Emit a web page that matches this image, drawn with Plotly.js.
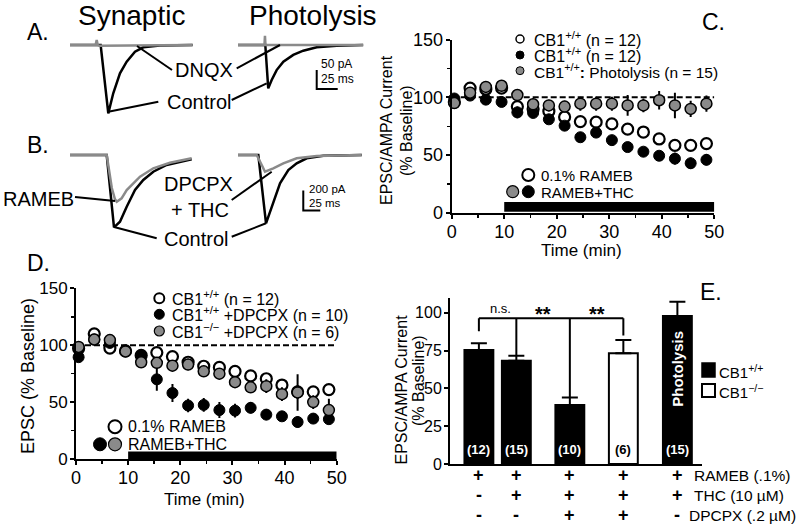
<!DOCTYPE html>
<html><head><meta charset="utf-8">
<script src="https://cdn.plot.ly/plotly-3.0.1.min.js"></script>
<style>html,body{margin:0;padding:0;background:#fff}#chart{width:800px;height:531px}</style>
</head><body><div id="chart"></div>
<script>
// ---------------- DATA ----------------
// Panel A traces (time ms, current pA)
const aSynTimeCtrl = [0, 31, 36.5, 45.6, 51.5, 59.5, 67.5, 77.4, 87.3, 107, 146];
const aSynCurrCtrl = [0, 0, 0, -180, -127, -74.5, -44, -17.6, -6, -1.3, 0];
const aSynTimeDnqx = [0, 30.5, 31.8, 33, 35, 146];
const aSynCurrDnqx = [0, 0, 13, 0, -2, 0];
const aPhoTimeCtrl = [0, 32.5, 36, 40.1, 46, 54, 65.8, 77.7, 93.7, 117.5, 149];
const aPhoCurrCtrl = [0, 0, -114, -92, -66, -44, -26, -15, -6, -2, 0];
const aPhoTimeDnqx = [0, 31.5, 32.1, 32.7, 149];
const aPhoCurrDnqx = [0, 0, 24, 0, 0];
// Panel B traces
const bSynTimeCtrl = [0, 54, 64.7, 73.5, 83.4, 95.6, 107.8, 122.5, 142, 179];
const bSynCurrCtrl = [0, 0, -723, -667, -517, -350, -250, -167, -100, -43];
const bSynTimeRameb = [0, 54, 61.5, 66, 68.7, 75.9, 83.4, 103, 122.5, 147, 179];
const bSynCurrRameb = [0, 0, -330, -440, -467, -433, -350, -217, -133, -77, -33];
const bPhoTimeCtrl = [0, 29.9, 41.2, 49.6, 61.8, 74, 86.3, 101, 125.4, 182];
const bPhoCurrCtrl = [0, 0, -683, -517, -283, -150, -83, -33, -7, 0];
const bPhoTimeThc = [0, 27.5, 34.9, 39.7, 51.9, 66.6, 86.3, 115.7, 182];
const bPhoCurrThc = [0, 0, -100, -167, -133, -83, -33, -10, 0];

// Panel C (time min, % baseline)
const timeC = [0.5, 3.5, 6.5, 9.5, 12.5, 15.5, 18.5, 21.5, 24.5, 27.5, 30.5, 33.5, 36.5, 39.5, 42.5, 45.5, 48.5];
const openC  = [96, 108, 107, 108, 92, 90, 88, 83, 79, 78.5, 77, 72.5, 70, 64, 58.5, 58.5, 60];
const openErrC = [2, 2, 2, 2, 3, 3, 3, 4, 3, 3, 3, 4, 5, 5, 5, 4, 3];
const blackC = [99, 101.5, 98, 96, 87, 86.5, 81, 75.5, 65.5, 69.5, 63, 57, 53, 49.5, 47, 43, 46];
const blackErrC = [2, 2, 2, 2, 5, 3, 3, 3, 3, 3, 3, 3, 3, 4, 5, 5, 5];
const grayC  = [95, 104, 109, 110, 102, 94, 93, 92, 94.5, 94.5, 94.5, 93, 93, 97.5, 93, 90, 94.5];
const grayErrC = [3, 3, 3, 3, 3, 5, 5, 5, 6, 6, 6, 9, 6, 8, 11, 7, 7];

// Panel D
const timeD = [0.5, 3.5, 6.5, 9.5, 12.5, 15.5, 18.5, 21.5, 24.5, 27.5, 30.5, 33.5, 36.5, 39.5, 42.5, 45.5, 48.5];
const openD  = [97, 110, 97.5, 95, 91, 93.5, 90, 85, 81.5, 80.5, 77, 73, 70.5, 65, 59, 59, 61];
const openErrD = [2, 2, 2, 2, 3, 4, 4, 4, 4, 4, 4, 5, 5, 5, 6, 5, 5];
const blackD = [89.5, 105, 102, 95, 91, 70, 58, 47, 47.5, 43, 42.5, 45, 39, 37.5, 32.5, 35.5, 35];
const blackErrD = [3, 3, 3, 3, 4, 10, 8, 6, 6, 7, 6, 5, 5, 4, 5, 4, 4];
const grayD  = [98.5, 105, 104.5, 94.5, 85, 84.5, 82, 83, 77, 75, 67.5, 63, 64, 57, 58.5, 50, 43];
const grayErrD = [3, 3, 3, 3, 4, 5, 5, 5, 5, 5, 5, 5, 6, 6, 16, 6, 10];

// Panel E
const barN = ['(12)', '(15)', '(10)', '(6)', '(15)'];
const barValues = [75.3, 68.3, 39, 73.2, 97.8];
const barErr = [4.5, 3.3, 5, 8.8, 9.5];
const barGenotype = ['+/+', '+/+', '+/+', '-/-', '+/+'];
const rowRameb = ['+', '+', '+', '+', '+'];
const rowThc   = ['-', '+', '+', '+', '+'];
const rowDpcpx = ['-', '-', '+', '+', '-'];
const rowLabels = ['RAMEB (.1%)', 'THC (10 \u00b5M)', 'DPCPX (.2 \u00b5M)'];
const sigLabels = ['n.s.', '**', '**'];

// ---------------- LAYOUT HELPERS ----------------
const W = 800, H = 531;
const F = 'Arial, "Liberation Sans", Helvetica, sans-serif';
const GRAY = '#8a8a8a';
const px = x => x / W;
const py = y => 1 - y / H;
const barX = [0.54, 1.24, 2.24, 3.24, 4.25];   // bar slots on panel E axis
const bracketGap = [8, 0, 0, 3];

const traces = [];
function wave(x, y, ax, color) {
  traces.push({x, y, xaxis: 'x' + ax, yaxis: 'y' + ax, mode: 'lines', type: 'scatter',
    line: {color, width: 2.5}, hoverinfo: 'skip', showlegend: false});
}
wave(aSynTimeCtrl, aSynCurrCtrl, 4, 'black');
wave(aSynTimeDnqx, aSynCurrDnqx, 4, GRAY);
wave(aPhoTimeCtrl, aPhoCurrCtrl, 5, 'black');
wave(aPhoTimeDnqx, aPhoCurrDnqx, 5, GRAY);
wave(bSynTimeCtrl, bSynCurrCtrl, 6, 'black');
wave(bSynTimeRameb, bSynCurrRameb, 6, GRAY);
wave(bPhoTimeCtrl, bPhoCurrCtrl, 7, 'black');
wave(bPhoTimeThc, bPhoCurrThc, 7, GRAY);

function pts(x, y, err, ax, fill, lw) {
  traces.push({x, y, xaxis: 'x' + ax, yaxis: 'y' + ax, mode: 'markers', type: 'scatter',
    cliponaxis: false, showlegend: false, hoverinfo: 'skip',
    marker: {symbol: 'circle', size: 11, color: fill, line: {color: 'black', width: lw}},
    error_y: {type: 'data', array: err, color: 'black', thickness: 2, width: 0}});
}
pts(timeC, openC, openErrC, '', 'white', 2.2);
pts(timeC, blackC, blackErrC, '', 'black', 1);
pts(timeC, grayC, grayErrC, '', GRAY, 1.5);
pts(timeD, openD, openErrD, '2', 'white', 2.2);
pts(timeD, blackD, blackErrD, '2', 'black', 1);
pts(timeD, grayD, grayErrD, '2', GRAY, 1.5);

traces.push({type: 'bar', x: barX, y: barValues, xaxis: 'x3', yaxis: 'y3', width: 0.54,
  marker: {color: barGenotype.map(g => g === '+/+' ? 'black' : 'white'), line: {color: 'black', width: 2}},
  error_y: {type: 'data', symmetric: false, array: barErr, arrayminus: barErr.map(() => 0),
    color: 'black', thickness: 2, width: 8},
  showlegend: false, hoverinfo: 'skip'});

const axBase = {showgrid: false, zeroline: false, showline: true, linecolor: 'black', linewidth: 2,
  ticks: 'outside', ticklen: 5, tickwidth: 2, tickcolor: 'black', fixedrange: true};
const hid = (domain, range) => ({domain, range, visible: false, fixedrange: true});
const minorX = {dtick: 5, ticks: 'outside', ticklen: 3, tickwidth: 1.5, tickcolor: 'black'};
const minorY = {dtick: 25, ticks: 'outside', ticklen: 3, tickwidth: 1.5, tickcolor: 'black'};

const layout = {
  width: W, height: H, margin: {l: 0, r: 0, t: 0, b: 0},
  paper_bgcolor: 'white', plot_bgcolor: 'rgba(0,0,0,0)', showlegend: false,
  font: {family: F, color: 'black'},
  xaxis: Object.assign({}, axBase, {domain: [px(451.7), px(714.3)], range: [0, 50], dtick: 10,
    minor: minorX, ticklen: 4, ticklabelstandoff: -3,
    tickfont: {family: F, size: 18, color: 'black'}, anchor: 'y'}),
  yaxis: Object.assign({}, axBase, {domain: [py(213), py(39.5)], range: [0, 150], dtick: 50,
    minor: minorY, ticklen: 4, ticklabelstandoff: -1, tickfont: {family: F, size: 18, color: 'black'}, anchor: 'x'}),
  xaxis2: Object.assign({}, axBase, {domain: [px(76), px(336.7)], range: [0, 50], dtick: 10,
    minor: minorX, ticklen: 4, ticklabelstandoff: -3,
    tickfont: {family: F, size: 18, color: 'black'}, anchor: 'y2'}),
  yaxis2: Object.assign({}, axBase, {domain: [py(459), py(288.3)], range: [0, 150], dtick: 50,
    minor: minorY, ticklen: 4, ticklabelstandoff: -1, tickfont: {family: F, size: 17, color: 'black'}, anchor: 'x2'}),
  xaxis3: Object.assign({}, axBase, {domain: [px(450), px(702)], range: [0, 4.71], ticks: '',
    showticklabels: false, anchor: 'y3'}),
  yaxis3: Object.assign({}, axBase, {domain: [py(464), py(297.6)], range: [0, 110],
    tickvals: [0, 25, 50, 75, 100], ticklen: 4, ticklabelstandoff: -1, tickfont: {family: F, size: 16, color: 'black'}, anchor: 'x3'}),
  xaxis4: hid([px(60), px(200)], [-11.9, 154.8]), yaxis4: hid([py(125), py(30)], [-210.5, 39.5]),
  xaxis5: hid([px(230), px(370)], [-9.52, 157.14]), yaxis5: hid([py(125), py(30)], [-210.5, 39.5]),
  xaxis6: hid([px(60), px(200)], [-14.7, 191.2]), yaxis6: hid([py(240), py(140)], [-850, 150]),
  xaxis7: hid([px(230), px(370)], [-11.76, 194.1]), yaxis7: hid([py(240), py(140)], [-850, 150]),
  shapes: [], annotations: []
};
['4', '5', '6', '7'].forEach(k => { layout['xaxis' + k].anchor = 'y' + k; layout['yaxis' + k].anchor = 'x' + k; });

const S = layout.shapes, A = layout.annotations;
// baseline dashes and drug bars
[['x', 'y', 1, 9.5], ['x2', 'y2', 0, 6.5]].forEach(([xr, yr, b0, b1]) => {
  S.push({type: 'line', xref: xr, yref: yr, x0: 0, x1: 50, y0: 100, y1: 100, layer: 'below',
    line: {color: 'black', width: 2, dash: '6px,3px'}});
  S.push({type: 'rect', xref: xr, yref: yr, x0: 10, x1: 50, y0: b0, y1: b1, fillcolor: 'black', line: {width: 0}});
});
// scale bars
S.push({type: 'path', xref: 'x5', yref: 'y5', path: 'M 93.7,-65.8 L 93.7,-115.8 L 118.7,-115.8', line: {color: 'black', width: 2}});
S.push({type: 'path', xref: 'x7', yref: 'y7', path: 'M 96,-355 L 96,-555 L 121,-555', line: {color: 'black', width: 2}});
A.push({xref: 'x5', yref: 'y5', x: 96.5, y: -50, text: '50 pA', showarrow: false, xanchor: 'left', yanchor: 'middle', font: {family: F, size: 12}});
A.push({xref: 'x5', yref: 'y5', x: 96.5, y: -89, text: '25 ms', showarrow: false, xanchor: 'left', yanchor: 'middle', font: {family: F, size: 12}});
A.push({xref: 'x7', yref: 'y7', x: 102, y: -340, text: '200 pA', showarrow: false, xanchor: 'left', yanchor: 'middle', font: {family: F, size: 11.5}});
A.push({xref: 'x7', yref: 'y7', x: 102, y: -478, text: '25 ms', showarrow: false, xanchor: 'left', yanchor: 'middle', font: {family: F, size: 11.5}});

// leader lines (paper px)
const leaders = [[172, 70, 137, 46], [236.7, 68.3, 280, 45], [158.3, 101.7, 108.3, 111.7], [231.7, 100, 266.7, 83.3],
  [75, 197, 115, 201], [231.7, 200, 271.7, 171.7], [156.7, 238.3, 115, 227.3], [231.7, 236.7, 266, 223.3]];
leaders.forEach(([x0, y0, x1, y1]) => S.push({type: 'line', xref: 'paper', yref: 'paper',
  x0: px(x0), y0: py(y0), x1: px(x1), y1: py(y1), line: {color: 'black', width: 2}}));

function txt(text, x, y, size, o) {
  A.push(Object.assign({text, xref: 'paper', yref: 'paper', x: px(x), y: py(y), showarrow: false,
    xanchor: 'center', yanchor: 'middle', font: {family: F, size, color: 'black'}}, o || {}));
}
function circ(cx, cy, r, fill, lw) {
  S.push({type: 'circle', xref: 'paper', yref: 'paper', x0: px(cx - r), x1: px(cx + r), y0: py(cy + r), y1: py(cy - r),
    fillcolor: fill, line: {color: 'black', width: lw}});
}
// panel labels & headers
txt('Synaptic', 131, 16, 28); txt('Photolysis', 312.5, 16, 28);
txt('A.', 25, 32, 23, {xanchor: 'left'}); txt('B.', 25, 145, 23, {xanchor: 'left'});
txt('C.', 700, 22, 23, {xanchor: 'left'}); txt('D.', 25, 263, 23, {xanchor: 'left'});
txt('E.', 698, 292, 23, {xanchor: 'left'});
txt('DNQX', 204, 69.5, 20); txt('Control', 198.5, 102, 20);
txt('RAMEB', 38, 199, 20); txt('DPCPX', 198, 184, 20); txt('+ THC', 200, 210, 20); txt('Control', 195.5, 239, 20);

// Panel C legend
circ(520, 39, 4, 'white', 1.5); circ(520, 55, 4, 'black', 1); circ(520, 70.7, 4, GRAY, 1);
txt('CB1<sup>+/+</sup> (n = 12)', 532, 39, 16, {xanchor: 'left'});
txt('CB1<sup>+/+</sup> (n = 12)', 532, 55, 16, {xanchor: 'left'});
txt('CB1<sup>+/+</sup><b>:</b> Photolysis (n = 15)', 532, 70.7, 15.5, {xanchor: 'left'});
circ(528.3, 175, 6, 'white', 2); circ(512.7, 191.7, 6, GRAY, 1.2); circ(528.3, 191.7, 6, 'black', 1);
txt('0.1% RAMEB', 539, 175, 15, {xanchor: 'left'}); txt('RAMEB+THC', 539, 192, 15, {xanchor: 'left'});
txt('EPSC/AMPA Current', 386, 130, 16, {textangle: -90});
txt('(% Baseline)', 406, 130, 16, {textangle: -90});
txt('Time (min)', 581, 250, 17);

// Panel D legend
circ(159.3, 298.3, 5, 'white', 2); circ(159.3, 314.3, 5, 'black', 1); circ(159.3, 331, 5, GRAY, 1.2);
txt('CB1<sup>+/+</sup> (n = 12)', 170, 298.3, 16, {xanchor: 'left'});
txt('CB1<sup>+/+</sup> +DPCPX (n = 10)', 170, 314.3, 16, {xanchor: 'left'});
txt('CB1<sup>\u2212/\u2212</sup> +DPCPX (n = 6)', 170, 331, 16, {xanchor: 'left'});
circ(115, 426.7, 6.5, 'white', 2); circ(100, 444.3, 6.5, 'black', 1); circ(115, 444.3, 6.5, GRAY, 1.2);
txt('0.1% RAMEB', 126, 426.5, 16, {xanchor: 'left'}); txt('RAMEB+THC', 126, 444.3, 16, {xanchor: 'left'});
txt('EPSC (% Baseline)', 27.5, 376.5, 18, {textangle: -90});
txt('Time (min)', 204.5, 500, 17);

// Panel E annotations
txt('EPSC/AMPA Current', 400.5, 390, 16, {textangle: -90});
txt('(% Baseline)', 418, 381, 16, {textangle: -90});
barX.forEach((x, i) => {
  const white = barGenotype[i] === '+/+';
  A.push({xref: 'x3', yref: 'y3', x, y: 9.3, text: '<b>' + barN[i] + '</b>', showarrow: false,
    font: {family: F, size: 13, color: white ? 'white' : 'black'}});
});
A.push({xref: 'x3', yref: 'y3', x: barX[4], y: 63.2, text: '<b>Photolysis</b>', textangle: -90, showarrow: false,
  font: {family: F, size: 15, color: 'white'}});
// significance bracket
const brY = 96.3;
S.push({type: 'line', xref: 'x3', yref: 'y3', x0: barX[0], x1: barX[3], y0: brY, y1: brY, line: {color: 'black', width: 2}});
for (let i = 0; i < 4; i++) {
  S.push({type: 'line', xref: 'x3', yref: 'y3', x0: barX[i], x1: barX[i], y0: brY,
    y1: barValues[i] + barErr[i] + bracketGap[i], line: {color: 'black', width: 2}});
}
A.push({xref: 'x3', yref: 'y3', x: (barX[0] + barX[1]) / 2 + 0.06, y: 102.5, text: sigLabels[0], showarrow: false, font: {family: F, size: 13}});
A.push({xref: 'x3', yref: 'y3', x: (barX[1] + barX[2]) / 2, y: 99, text: '<b>' + sigLabels[1] + '</b>', showarrow: false, font: {family: F, size: 20}});
A.push({xref: 'x3', yref: 'y3', x: (barX[2] + barX[3]) / 2, y: 99, text: '<b>' + sigLabels[2] + '</b>', showarrow: false, font: {family: F, size: 20}});
// condition rows
[[rowRameb, 475], [rowThc, 495], [rowDpcpx, 515]].forEach(([row, y]) => {
  row.forEach((s, i) => A.push({xref: 'x3', yref: 'paper', x: barX[i], y: py(y), text: '<b>' + s + '</b>',
    showarrow: false, xanchor: 'center', yanchor: 'middle', font: {family: F, size: 18, color: 'black'}}));
});
txt(rowLabels[0], 692, 475, 15.5, {xanchor: 'left'});
txt(rowLabels[1], 692, 495, 15.5, {xanchor: 'left'});
txt(rowLabels[2], 687, 515, 15.5, {xanchor: 'left'});
// E legend
S.push({type: 'rect', xref: 'paper', yref: 'paper', x0: px(702), x1: px(715), y0: py(377), y1: py(363), fillcolor: 'black', line: {color: 'black', width: 1.5}});
S.push({type: 'rect', xref: 'paper', yref: 'paper', x0: px(702), x1: px(715), y0: py(397), y1: py(384), fillcolor: 'white', line: {color: 'black', width: 2}});
txt('CB1<sup>+/+</sup>', 717, 371, 15, {xanchor: 'left'});
txt('CB1<sup>\u2212/\u2212</sup>', 717, 391, 15, {xanchor: 'left'});

Plotly.newPlot('chart', traces, layout, {displayModeBar: false, staticPlot: true});
</script>
</body></html>
